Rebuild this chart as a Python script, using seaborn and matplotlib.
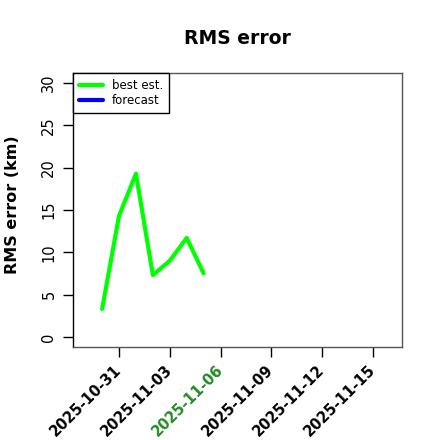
import matplotlib
matplotlib.use("Agg")
import matplotlib.pyplot as plt
from matplotlib.lines import Line2D
import pandas as pd
import seaborn as sns

# ---- data ----
dates = ["2025-10-30", "2025-10-31", "2025-11-01", "2025-11-02",
         "2025-11-03", "2025-11-04", "2025-11-05"]
best_est = [3.3, 14.3, 19.3, 7.3, 9.0, 11.7, 7.5]
forecast_dates = []
forecast = []
tick_dates = ["2025-10-31", "2025-11-03", "2025-11-06",
              "2025-11-09", "2025-11-12", "2025-11-15"]
highlight_date = "2025-11-06"
y_ticks = [0, 5, 10, 15, 20, 25, 30]
series_names = ["best est.", "forecast"]
series_colors = ["#00FF00", "#0000FF"]

sns.set_style("ticks")
plt.rcParams['font.family'] = ['DejaVu Sans']
plt.rcParams['text.color'] = 'black'
plt.rcParams['axes.labelcolor'] = 'black'
plt.rcParams['xtick.color'] = 'black'
plt.rcParams['ytick.color'] = 'black'
plt.rcParams['xtick.labelcolor'] = 'black'
plt.rcParams['ytick.labelcolor'] = 'black'

fig = plt.figure(figsize=(4.4, 4.4), dpi=100)
ax = fig.add_axes([73/440, 1-347/440, (402-73)/440, (347-73)/440])

df = pd.DataFrame({"date": pd.to_datetime(dates), "rms": best_est})
sns.lineplot(data=df, x="date", y="rms", ax=ax, color=series_colors[0],
             linewidth=3, legend=False)
if forecast:
    fdf = pd.DataFrame({"date": pd.to_datetime(forecast_dates), "rms": forecast})
    sns.lineplot(data=fdf, x="date", y="rms", ax=ax, color=series_colors[1],
                 linewidth=3, legend=False)

x0 = pd.Timestamp("2025-10-29") - pd.Timedelta(days=0.72)
x1 = pd.Timestamp("2025-11-16") + pd.Timedelta(days=0.72)
ax.set_xlim(x0, x1)
ax.set_ylim(-1.2, 31.2)

ticks = pd.to_datetime(tick_dates)
ax.set_xticks(ticks)
ax.set_xticklabels(tick_dates, rotation=45, ha="right", va="center",
                   rotation_mode="anchor", fontweight="bold", fontsize=10.5,
                   color="black")
for lbl, d in zip(ax.get_xticklabels(), tick_dates):
    if d == highlight_date:
        lbl.set_color("#228B22")
ax.set_yticks(y_ticks)
ax.set_yticklabels([str(v) for v in y_ticks], rotation=90, va="center",
                   fontsize=10.5, color="black")
ax.tick_params(axis="both", length=7, width=1, color="black")
ax.tick_params(axis="y", pad=5)
ax.tick_params(axis="x", pad=8)

for s in ["top", "right", "bottom"]:
    ax.spines[s].set_visible(True)
    ax.spines[s].set_color("#555555")
ax.spines["left"].set_color("black")
for s in ax.spines.values():
    s.set_linewidth(1)

ax.set_xlabel("")
ax.set_ylabel("RMS error (km)", fontweight="bold", fontsize=11.5, color="black")
ax.yaxis.set_label_coords(-0.16, 0.52)
ax.set_title("RMS error", fontweight="bold", fontsize=13.5, pad=21, color="black")

handles = [Line2D([], [], color=c, linewidth=3) for c in series_colors]
leg = ax.legend(handles, series_names, loc="upper left", borderaxespad=0,
                fontsize=8.5, fancybox=False, framealpha=1,
                edgecolor="black", handlelength=2.0, labelspacing=0.2,
                borderpad=0.5)
leg.get_frame().set_linewidth(1)
for t in leg.get_texts():
    t.set_color("black")

fig.savefig("out.png", dpi=100)
